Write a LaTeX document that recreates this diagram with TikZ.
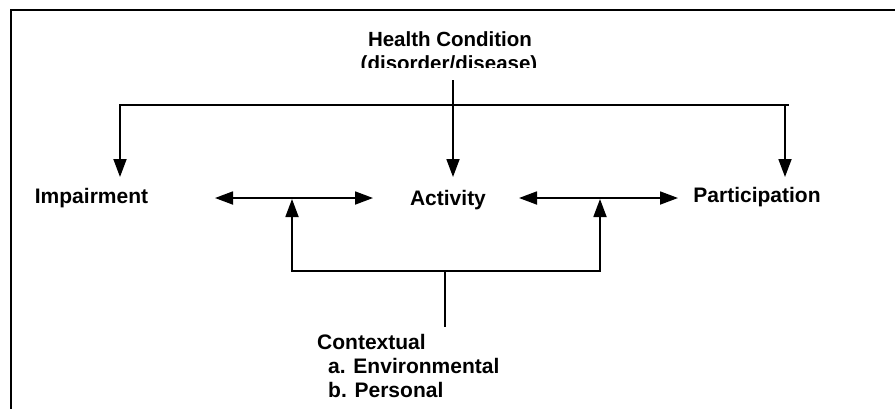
\documentclass[tikz,border=0pt]{standalone}
\usepackage{fontspec}
\setmainfont{Liberation Sans}
\usetikzlibrary{arrows.meta}
\begin{document}
\begin{tikzpicture}[x=1pt,y=-1pt,
  lbl/.style={font=\bfseries\fontsize{21}{24}\selectfont, inner sep=0pt, anchor=base},
  toplbl/.style={lbl, font=\bfseries\fontsize{20.5}{24}\selectfont},
  ln/.style={line width=1.8pt, line cap=butt, line join=miter},
  arr/.style={ln, -{Triangle[length=18pt,width=13pt]}},
  darr/.style={ln, {Triangle[length=18pt,width=13pt]}-{Triangle[length=18pt,width=13pt]}}]
\useasboundingbox (0,0) rectangle (895,408);
\clip (0,0) rectangle (895,408);
% frame (cut off at right and bottom)
\draw[line width=2pt] (11,420) -- (11,10) -- (905,10);
% health condition
\node[toplbl] (hc) at (450,46) {Health Condition};
\begin{scope}
  \clip (300,20) rectangle (600,67.5);
  \node[toplbl] (hcs) at (449,70) {(disorder/disease)};
\end{scope}
% main nodes
\node[lbl] (imp) at (91.5,203) {Impairment};
\node[lbl] (act) at (448,205) {Activity};
\node[lbl] (par) at (757,202) {Participation};
\node[lbl, anchor=north west, align=left] (ctx) at (317,334)
  {Contextual\\\hspace*{11pt}a. Environmental\\\hspace*{11pt}b. Personal};
% coordinates
\coordinate (top) at (453,80);
\coordinate (barL) at (120,105);
\coordinate (barR) at (785,105);
\coordinate (barE) at (789,105);
\coordinate (tipL) at (120,177);
\coordinate (tipM) at (453,177);
\coordinate (tipR) at (785,177);
\coordinate (d1l) at (215,198);
\coordinate (d1r) at (373,198);
\coordinate (d2l) at (519,198);
\coordinate (d2r) at (678,198);
\coordinate (u1) at (292,199);
\coordinate (u2) at (600,199);
\coordinate (b1) at (292,271);
\coordinate (b2) at (600,271);
\coordinate (bm) at (445,271);
\coordinate (bme) at (445,327);
% top distribution
\draw[arr] (top) -- (tipM);
\draw[darr] (tipL) -- (barL) -- (barR) -- (tipR);
\draw[ln] (barR) -- (barE);
% horizontal double arrows
\draw[darr] (d1l) -- (d1r);
\draw[darr] (d2l) -- (d2r);
% contextual
\draw[darr] (u1) -- (b1) -- (b2) -- (u2);
\draw[ln] (bm) -- (bme);
\end{tikzpicture}
\end{document}
